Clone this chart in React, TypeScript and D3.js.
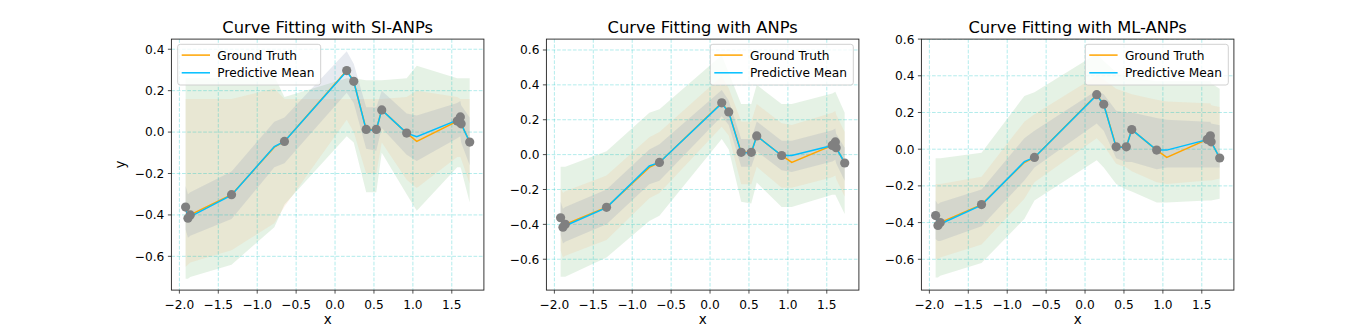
import React from "react";
import * as d3 from "d3";

// target inputs (context points + two extra targets)
const targetX = [-1.92, -1.89, -1.86, -1.33, -0.78, -0.65, 0.15, 0.24, 0.4, 0.53, 0.6, 0.92, 1.05, 1.57, 1.61, 1.62, 1.73];
const groundTruth = [-0.362, -0.416, -0.4, -0.302, -0.073, -0.045, 0.297, 0.245, 0.013, 0.013, 0.107, -0.005, -0.045, 0.053, 0.073, 0.04, -0.048];

const contextX = [-1.92, -1.89, -1.86, -1.33, -0.65, 0.15, 0.24, 0.4, 0.53, 0.6, 0.92, 1.57, 1.61, 1.62, 1.73];
const contextY = [-0.362, -0.416, -0.4, -0.302, -0.045, 0.297, 0.245, 0.013, 0.013, 0.107, -0.005, 0.053, 0.073, 0.04, -0.048];

// predictive means
const meanSI = [-0.362, -0.414, -0.408, -0.305, -0.07, -0.045, 0.294, 0.245, 0.01, 0.01, 0.107, -0.005, -0.022, 0.058, 0.073, 0.04, -0.048];
const meanANP = [-0.362, -0.414, -0.408, -0.304, -0.065, -0.045, 0.294, 0.243, 0.01, 0.01, 0.107, -0.005, -0.005, 0.052, 0.073, 0.04, -0.048];
const meanML = [-0.362, -0.414, -0.408, -0.305, -0.068, -0.045, 0.294, 0.243, 0.01, 0.01, 0.107, -0.005, -0.005, 0.052, 0.073, 0.04, -0.048];

// uncertainty bands, SI-ANPs
const siOuterHi = [0.26, 0.26, 0.26, 0.26, 0.27, 0.17, 0.26, 0.26, 0.25, 0.25, 0.25, 0.26, 0.32, 0.26, 0.26, 0.26, 0.26];
const siOuterLo = [-0.708, -0.708, -0.7, -0.64, -0.46, -0.35, -0.02, -0.05, -0.29, -0.29, -0.1, -0.3, -0.38, -0.17, -0.17, -0.18, -0.34];
const siMidHi = [0.16, 0.16, 0.16, 0.16, 0.21, 0.16, 0.16, 0.16, 0.16, 0.16, 0.16, 0.17, 0.2, 0.17, 0.16, 0.16, 0.16];
const siMidLo = [-0.65, -0.64, -0.63, -0.57, -0.44, -0.36, 0.06, 0.0, -0.2, -0.2, -0.05, -0.23, -0.27, -0.12, -0.12, -0.13, -0.25];
const siInnerHi = [-0.26, -0.3, -0.29, -0.19, 0.05, 0.07, 0.39, 0.33, 0.12, 0.12, 0.2, 0.09, 0.08, 0.14, 0.15, 0.13, 0.07];
const siInnerLo = [-0.47, -0.51, -0.5, -0.42, -0.17, -0.15, 0.19, 0.14, -0.08, -0.09, 0.02, -0.11, -0.14, -0.03, -0.02, -0.05, -0.16];

// ANPs
const anpOuterHi = [-0.07, -0.07, -0.07, 0.02, 0.24, 0.26, 0.57, 0.47, 0.29, 0.29, 0.4, 0.29, 0.29, 0.35, 0.36, 0.35, 0.24];
const anpOuterLo = [-0.7, -0.7, -0.7, -0.59, -0.38, -0.35, 0.09, 0.03, -0.27, -0.28, -0.16, -0.3, -0.3, -0.23, -0.23, -0.24, -0.34];
const anpMidHi = [-0.19, -0.22, -0.21, -0.12, 0.1, 0.13, 0.45, 0.38, 0.19, 0.19, 0.29, 0.18, 0.17, 0.24, 0.25, 0.23, 0.13];
const anpMidLo = [-0.55, -0.59, -0.58, -0.49, -0.25, -0.22, 0.16, 0.11, -0.17, -0.17, -0.07, -0.19, -0.19, -0.13, -0.12, -0.14, -0.24];
const anpInnerHi = [-0.27, -0.31, -0.3, -0.2, 0.03, 0.06, 0.37, 0.31, 0.09, 0.09, 0.19, 0.08, 0.08, 0.14, 0.15, 0.12, 0.04];
const anpInnerLo = [-0.46, -0.51, -0.5, -0.4, -0.17, -0.15, 0.22, 0.17, -0.07, -0.07, 0.02, -0.09, -0.1, -0.04, -0.03, -0.05, -0.15];

// ML-ANPs
const mlOuterHi = [-0.05, -0.05, -0.05, -0.02, 0.29, 0.31, 0.52, 0.48, 0.42, 0.4, 0.39, 0.37, 0.37, 0.37, 0.37, 0.36, 0.33];
const mlOuterLo = [-0.7, -0.7, -0.69, -0.62, -0.38, -0.28, -0.06, -0.1, -0.19, -0.22, -0.23, -0.29, -0.29, -0.28, -0.28, -0.28, -0.27];
const mlMidHi = [-0.19, -0.19, -0.19, -0.15, 0.15, 0.19, 0.4, 0.38, 0.33, 0.31, 0.3, 0.27, 0.26, 0.25, 0.25, 0.24, 0.23];
const mlMidLo = [-0.6, -0.6, -0.59, -0.52, -0.27, -0.18, 0.06, 0.02, -0.08, -0.1, -0.12, -0.18, -0.19, -0.17, -0.17, -0.17, -0.16];
const mlInnerHi = [-0.28, -0.3, -0.29, -0.22, 0.06, 0.1, 0.32, 0.3, 0.21, 0.2, 0.2, 0.17, 0.16, 0.15, 0.15, 0.14, 0.13];
const mlInnerLo = [-0.49, -0.5, -0.5, -0.42, -0.17, -0.1, 0.14, 0.1, -0.05, -0.07, -0.07, -0.11, -0.1, -0.1, -0.1, -0.1, -0.1];

const titles = ["Curve Fitting with SI-ANPs", "Curve Fitting with ANPs", "Curve Fitting with ML-ANPs"];
const xTicks = [-2.0, -1.5, -1.0, -0.5, 0.0, 0.5, 1.0, 1.5];
const yTicksSI = [-0.6, -0.4, -0.2, 0.0, 0.2, 0.4];
const yTicksWide = [-0.6, -0.4, -0.2, 0.0, 0.2, 0.4, 0.6];
const legendLabels = ["Ground Truth", "Predictive Mean"];

const W = 1371;
const H = 326;
const axTop = 39.1;
const axBottom = 290.1;
const axWidth = 312.5;
const font = "DejaVu Sans, sans-serif";
const fmt = d3.format(".1f");

const xExtent = d3.extent(targetX) as [number, number];
const xPad = (xExtent[1] - xExtent[0]) * 0.05;
const xDomain = [xExtent[0] - xPad, xExtent[1] + xPad];

const panels = [
  {
    left: 171.4, title: titles[0], mean: meanSI, yDomain: [-0.763, 0.449], yTicks: yTicksSI,
    bands: [[siOuterLo, siOuterHi], [siMidLo, siMidHi], [siInnerLo, siInnerHi]], legend: "left", yLabel: true,
  },
  {
    left: 546.4, title: titles[1], mean: meanANP, yDomain: [-0.777, 0.6625], yTicks: yTicksWide,
    bands: [[anpOuterLo, anpOuterHi], [anpMidLo, anpMidHi], [anpInnerLo, anpInnerHi]], legend: "right", yLabel: false,
  },
  {
    left: 921.4, title: titles[2], mean: meanML, yDomain: [-0.768, 0.6], yTicks: yTicksWide,
    bands: [[mlOuterLo, mlOuterHi], [mlMidLo, mlMidHi], [mlInnerLo, mlInnerHi]], legend: "right", yLabel: false,
  },
];

const bandStyles = [
  { fill: "#008000", opacity: 0.1 },
  { fill: "#f5c08a", opacity: 0.2 },
  { fill: "#8596b2", opacity: 0.2 },
];

function Panel({ p, idx }) {
  const x = d3.scaleLinear().domain(xDomain).range([p.left, p.left + axWidth]);
  const y = d3.scaleLinear().domain(p.yDomain).range([axBottom, axTop]);
  const right = p.left + axWidth;

  const areaPath = (lo, hi) =>
    d3.area<number>()
      .x((d) => x(d))
      .y0((d, i) => y(lo[i]))
      .y1((d, i) => y(hi[i]))(targetX);

  const linePath = (vals) =>
    d3.line<number>()
      .x((d) => x(d))
      .y((d, i) => y(vals[i]))(targetX);

  const legW = 143;
  const legX = p.legend === "left" ? p.left + 6.3 : right - 5.6 - legW;
  const legY = axTop + 5.2;

  return (
    <g>
      <defs>
        <clipPath id={`clip${idx}`}>
          <rect x={p.left} y={axTop} width={axWidth} height={axBottom - axTop} />
        </clipPath>
      </defs>
      <g clipPath={`url(#clip${idx})`}>
        {p.bands.map(([lo, hi], i) => (
          <path key={i} d={areaPath(lo, hi)} fill={bandStyles[i].fill} fillOpacity={bandStyles[i].opacity} stroke="none" />
        ))}
        {xTicks.map((t) => (
          <line key={"gx" + t} x1={x(t)} x2={x(t)} y1={axTop} y2={axBottom}
            stroke="#00bfbf" strokeOpacity={0.3} strokeWidth={1} strokeDasharray="3.7,1.6" />
        ))}
        {p.yTicks.map((t) => (
          <line key={"gy" + t} x1={p.left} x2={right} y1={y(t)} y2={y(t)}
            stroke="#00bfbf" strokeOpacity={0.3} strokeWidth={1} strokeDasharray="3.7,1.6" />
        ))}
        <path d={linePath(groundTruth)} fill="none" stroke="#ffa500" strokeWidth={1.5} />
        <path d={linePath(p.mean)} fill="none" stroke="#00bfff" strokeWidth={1.5} />
        {contextX.map((cx, i) => (
          <circle key={i} cx={x(cx)} cy={y(contextY[i])} r={4.6} fill="#808080" />
        ))}
      </g>
      <rect x={p.left} y={axTop} width={axWidth} height={axBottom - axTop} fill="none" stroke="#222" strokeWidth={0.9} />
      {xTicks.map((t) => (
        <g key={"tx" + t}>
          <line x1={x(t)} x2={x(t)} y1={axBottom} y2={axBottom + 3.5} stroke="#222" strokeWidth={0.8} />
          <text x={x(t)} y={308.5} textAnchor="middle" fontSize={12.2} fontFamily={font} fill="#000">{fmt(t)}</text>
        </g>
      ))}
      {p.yTicks.map((t) => (
        <g key={"ty" + t}>
          <line x1={p.left - 3.5} x2={p.left} y1={y(t)} y2={y(t)} stroke="#222" strokeWidth={0.8} />
          <text x={p.left - 7} y={y(t) + 4.4} textAnchor="end" fontSize={12.2} fontFamily={font} fill="#000">{fmt(t)}</text>
        </g>
      ))}
      <text x={p.left + axWidth / 2} y={33.2} textAnchor="middle" fontSize={16.3} fontFamily={font} fill="#000">{p.title}</text>
      <text x={p.left + axWidth / 2} y={324} textAnchor="middle" fontSize={13.5} fontFamily={font} fill="#000">x</text>
      {p.yLabel && (
        <text transform={`translate(125,${(axTop + axBottom) / 2}) rotate(-90)`} textAnchor="middle" fontSize={13.5} fontFamily={font} fill="#000">y</text>
      )}
      <g>
        <rect x={legX} y={legY} width={legW} height={40.7} rx={2.5} fill="#fff" fillOpacity={0.8} stroke="#cccccc" strokeWidth={0.9} />
        {legendLabels.map((lab, i) => {
          const cy = legY + 10.8 + i * 17.7;
          return (
            <g key={lab}>
              <line x1={legX + 4} x2={legX + 32.3} y1={cy} y2={cy} stroke={i === 0 ? "#ffa500" : "#00bfff"} strokeWidth={1.5} />
              <text x={legX + 39.6} y={cy + 4.4} fontSize={12.2} fontFamily={font} fill="#000">{lab}</text>
            </g>
          );
        })}
      </g>
    </g>
  );
}

export default function App() {
  return (
    <div>
      <style>{`body{margin:0}`}</style>
      <svg width={W} height={H} style={{ display: "block", background: "#fff" }}>
        {panels.map((p, i) => (
          <Panel key={i} p={p} idx={i} />
        ))}
      </svg>
    </div>
  );
}
